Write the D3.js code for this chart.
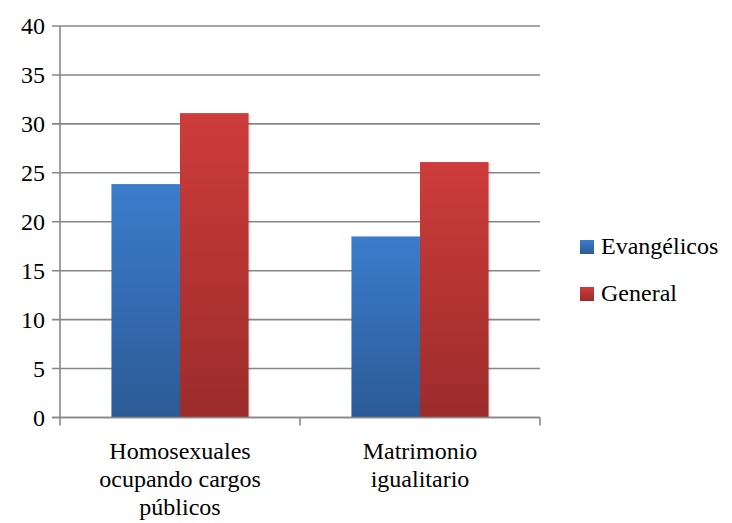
<!DOCTYPE html>
<html>
<head>
<meta charset="utf-8">
<script src="https://cdn.jsdelivr.net/npm/d3@7"></script>
<style>
  body { margin: 0; background: #fff; }
</style>
</head>
<body>
<script>
var categories = [["Homosexuales", "ocupando cargos", "públicos"], ["Matrimonio", "igualitario"]];
var seriesNames = ["Evangélicos", "General"];
var evangelicos = [23.85, 18.5];
var general = [31.1, 26.1];
var yTicks = [0, 5, 10, 15, 20, 25, 30, 35, 40];

var width = 732, height = 523;
var margins = { top: 26, bottom: 105.5, left: 60, right: 192 };
var plotWidth = width - margins.left - margins.right;
var plotHeight = height - margins.top - margins.bottom;
var fontFam = "Liberation Serif";

var colors = [
  { top: "#3b7dcc", bottom: "#2c5a96" },
  { top: "#cd3c3a", bottom: "#9b2c2b" }
];

var svg = d3.select("body").append("svg")
  .attr("width", width)
  .attr("height", height);

var defs = svg.append("defs");
colors.forEach(function(c, i) {
  var g = defs.append("linearGradient")
    .attr("id", "grad" + i)
    .attr("x1", 0).attr("y1", 0).attr("x2", 0).attr("y2", 1);
  g.append("stop").attr("offset", "0%").attr("stop-color", c.top);
  g.append("stop").attr("offset", "100%").attr("stop-color", c.bottom);
});

var plot = svg.append("g").attr("transform", "translate(" + margins.left + "," + margins.top + ")");

var yScale = d3.scaleLinear().domain([0, 40]).range([plotHeight, 0]);
var xScale = d3.scaleBand().domain(d3.range(categories.length)).range([0, plotWidth]);
var inner = d3.scaleBand().domain(d3.range(seriesNames.length))
  .range([0, xScale.bandwidth()]).paddingOuter(0.75).paddingInner(0);

// gridlines
plot.selectAll(".grid").data(yTicks).enter().append("line")
  .attr("x1", -8).attr("x2", plotWidth)
  .attr("y1", function(d) { return yScale(d); })
  .attr("y2", function(d) { return yScale(d); })
  .attr("stroke", "#878787").attr("stroke-width", 1.6);

// y labels
plot.selectAll(".ylab").data(yTicks).enter().append("text")
  .attr("x", -15)
  .attr("y", function(d) { return yScale(d) + 8; })
  .attr("text-anchor", "end")
  .style("font-family", fontFam)
  .style("font-size", "24px")
  .text(function(d) { return d; });

// bar shadows (soft edge like the original)
var series = [evangelicos, general];
series.forEach(function(vals, si) {
  plot.selectAll(".shadow" + si).data(vals).enter().append("rect")
    .attr("x", function(d, i) { return xScale(i) + inner(si) + 1; })
    .attr("y", function(d) { return yScale(d) + 1; })
    .attr("width", inner.bandwidth() + 1)
    .attr("height", function(d) { return plotHeight - yScale(d) - 1; })
    .attr("fill", "#000").attr("opacity", 0.08);
});

// bars
series.forEach(function(vals, si) {
  plot.selectAll(".bar" + si).data(vals).enter().append("rect")
    .attr("x", function(d, i) { return xScale(i) + inner(si); })
    .attr("y", function(d) { return yScale(d); })
    .attr("width", inner.bandwidth())
    .attr("height", function(d) { return plotHeight - yScale(d); })
    .attr("fill", "url(#grad" + si + ")");
});

// axes lines
plot.append("line").attr("x1", 0).attr("x2", 0).attr("y1", 0).attr("y2", plotHeight)
  .attr("stroke", "#878787").attr("stroke-width", 1.6);
plot.append("line").attr("x1", -8).attr("x2", plotWidth).attr("y1", plotHeight).attr("y2", plotHeight)
  .attr("stroke", "#878787").attr("stroke-width", 1.6);
var xTicks = d3.range(categories.length + 1);
plot.selectAll(".xtick").data(xTicks).enter().append("line")
  .attr("x1", function(d) { return d * xScale.step(); })
  .attr("x2", function(d) { return d * xScale.step(); })
  .attr("y1", plotHeight).attr("y2", plotHeight + 8)
  .attr("stroke", "#878787").attr("stroke-width", 1.6);

// category labels
categories.forEach(function(lines, i) {
  var cx = xScale(i) + xScale.bandwidth() / 2;
  lines.forEach(function(l, j) {
    plot.append("text")
      .attr("text-anchor", "middle")
      .attr("x", cx)
      .attr("y", plotHeight + 41 + j * 28)
      .style("font-family", fontFam)
      .style("font-size", "24px")
      .text(l);
  });
});

// legend
var legend = svg.append("g").attr("transform", "translate(580,240)");
seriesNames.forEach(function(name, i) {
  legend.append("rect")
    .attr("x", 0).attr("y", i * 47)
    .attr("width", 14).attr("height", 14)
    .attr("fill", "url(#grad" + i + ")");
  legend.append("text")
    .attr("x", 21).attr("y", i * 47 + 14)
    .style("font-family", fontFam)
    .style("font-size", "24px")
    .text(name);
});
</script>
</body>
</html>
